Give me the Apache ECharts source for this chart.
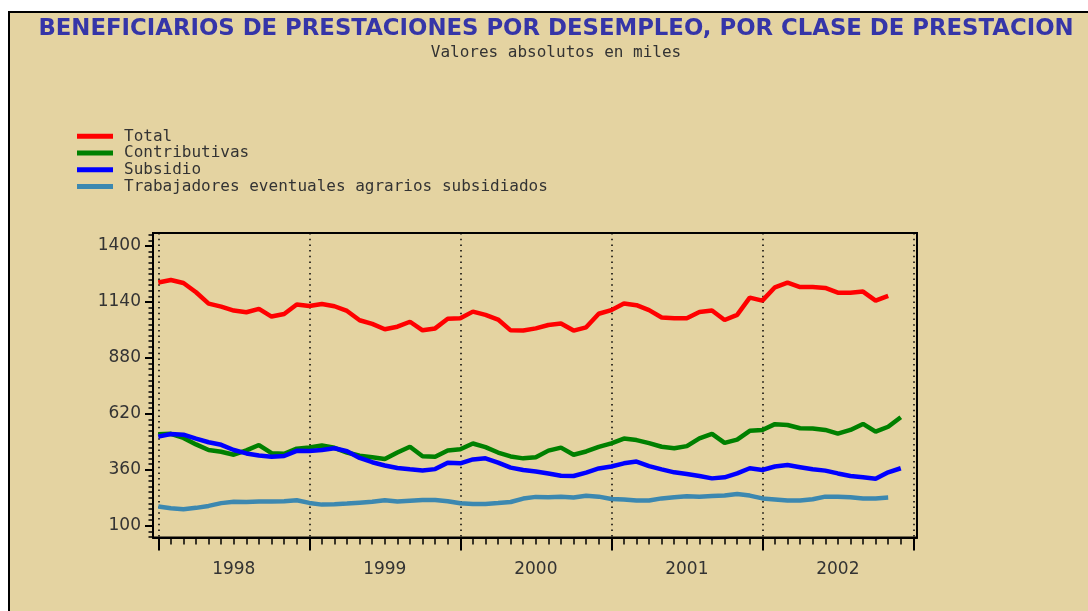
<!DOCTYPE html>
<html><head><meta charset="utf-8">
<script src="https://cdn.jsdelivr.net/npm/echarts@6/dist/echarts.min.js"></script>
<style>
html,body{margin:0;padding:0;background:#fff;width:1088px;height:611px;overflow:hidden;position:relative}
#bg{position:absolute;left:8px;top:11px;width:1100px;height:620px;background:#E4D3A1;border-top:2px solid #000;border-left:2px solid #000}
#chart{position:absolute;left:0;top:0;width:1088px;height:611px}
</style></head><body><div id="bg"></div><div id="chart"></div>
<script>
// Tick labels
const years = ['1998', '1999', '2000', '2001', '2002'];
const yTicks = [100, 360, 620, 880, 1140, 1400];
const seriesNames = ['Total', 'Contributivas', 'Subsidio', 'Trabajadores eventuales agrarios subsidiados'];

// Monthly values (thousands), starting January 1998
const total = [1230,1242,1228,1185,1132,1118,1100,1092,1108,1072,
  1084,1128,1121,1130,1120,1098,1055,1038,1013,1025,
  1048,1008,1017,1062,1064,1095,1080,1058,1008,1007,
  1017,1033,1040,1007,1022,1085,1102,1133,1125,1102,
  1068,1064,1064,1093,1100,1056,1080,1160,1146,1208,
  1230,1209,1209,1205,1183,1183,1188,1146,1168];
const contributivas = [525,527,508,478,452,444,430,450,475,437,
  434,458,464,473,462,440,425,418,410,440,
  467,423,421,450,455,482,465,440,422,413,
  418,449,463,430,445,466,483,505,498,484,
  467,460,470,506,527,485,500,541,545,572,
  568,553,552,545,528,545,573,537,560,604];
const subsidio = [514,526,523,505,488,476,452,436,426,421,
  424,448,447,452,460,446,415,395,380,368,
  362,357,363,393,390,408,413,393,370,359,
  352,343,332,331,347,366,375,390,398,377,
  362,348,340,331,320,325,343,367,359,375,
  382,372,362,356,343,331,325,318,348,367];
const eventuales = [189,181,177,183,192,205,211,210,212,213,
  214,218,206,198,200,203,207,211,218,213,
  216,219,220,214,204,201,201,205,210,226,
  234,232,235,231,239,235,224,222,217,217,
  227,232,237,235,238,240,247,240,227,222,
  217,217,223,235,235,232,227,227,231];

const seriesValues = [total, contributivas, subsidio, eventuales];
const colors = ['#FF0000', '#008000', '#0000FF', '#3C88B0'];

// axis helpers (month index from Jan 1998)
const yearBounds = years.map((y, i) => i * 12).concat([years.length * 12]);
const yearMid = years.map((y, i) => i * 12 + 6);
const monthTicks = [];
for (let m = 0; m <= years.length * 12; m++) monthTicks.push(m);
const yMinor = [];
for (let v = 48; v <= 1460; v += 26) yMinor.push(v);

const XMIN = -0.42, XMAX = 60.29, YMIN = 45.2, YMAX = 1460.4;
const labelFont = { fontFamily: 'DejaVu Sans', fontSize: 17, color: '#333' };

const chart = echarts.init(document.getElementById('chart'), null, { renderer: 'canvas' });
chart.setOption({
  animation: false,
  backgroundColor: 'transparent',
  color: colors,
  title: [
    { text: 'BENEFICIARIOS DE PRESTACIONES POR DESEMPLEO, POR CLASE DE PRESTACION',
      left: 556, top: 18, textAlign: 'center', padding: 0,
      textStyle: { fontFamily: 'DejaVu Sans', fontSize: 22.8, fontWeight: 'bold', color: '#3535A8' } },
    { text: 'Valores absolutos en miles',
      left: 556, top: 45, textAlign: 'center', padding: 0,
      textStyle: { fontFamily: 'DejaVu Sans Mono', fontSize: 16, fontWeight: 'normal', color: '#333' } }
  ],
  legend: {
    orient: 'vertical', left: 77, top: 128, padding: 0, itemGap: 0,
    itemWidth: 36, itemHeight: 5, icon: 'rect',
    data: seriesNames,
    textStyle: { fontFamily: 'DejaVu Sans Mono', fontSize: 16, color: '#333', lineHeight: 16.7, padding: [0, 0, 0, 6] }
  },
  grid: { left: 153, top: 233, width: 764, height: 304.5, show: true, borderColor: '#000', borderWidth: 2, backgroundColor: 'transparent' },
  xAxis: [
    { type: 'value', min: XMIN, max: XMAX, position: 'bottom',
      axisLine: { show: true, onZero: false, lineStyle: { color: '#000', width: 2 } },
      axisTick: { show: true, customValues: yearBounds, length: 13, lineStyle: { color: '#000', width: 2 } },
      axisLabel: Object.assign({ show: true, customValues: yearMid, margin: 24,
        formatter: (v) => years[Math.round((v - 6) / 12)] }, labelFont),
      splitLine: { show: true, lineStyle: { color: '#000', width: 1.5, type: [1.5, 4.2] } }
    },
    { type: 'value', min: XMIN, max: XMAX, position: 'bottom',
      axisLine: { show: false, onZero: false },
      axisTick: { show: true, customValues: monthTicks, length: 7, lineStyle: { color: '#000', width: 1.5 } },
      axisLabel: { show: false },
      splitLine: { show: false }
    }
  ],
  yAxis: [
    { type: 'value', min: YMIN, max: YMAX, position: 'left',
      axisLine: { show: true, onZero: false, lineStyle: { color: '#000', width: 2 } },
      axisTick: { show: true, customValues: yTicks, length: 8, lineStyle: { color: '#000', width: 2 } },
      axisLabel: Object.assign({ show: true, customValues: yTicks, margin: 12,
        formatter: (v) => String(Math.round(v)) }, labelFont),
      splitLine: { show: false }
    },
    { type: 'value', min: YMIN, max: YMAX, position: 'left',
      axisLine: { show: false, onZero: false },
      axisTick: { show: true, customValues: yMinor, length: 4.5, lineStyle: { color: '#000', width: 1.5 } },
      axisLabel: { show: false },
      splitLine: { show: false }
    }
  ],
  series: seriesNames.map((name, k) => ({
    name: name, type: 'line', xAxisIndex: 0, yAxisIndex: 0,
    showSymbol: false, symbol: 'none',
    data: seriesValues[k].map((v, i) => [i, v]),
    lineStyle: { width: 4.5, color: colors[k] },
    itemStyle: { color: colors[k] }
  }))
});
</script></body></html>
